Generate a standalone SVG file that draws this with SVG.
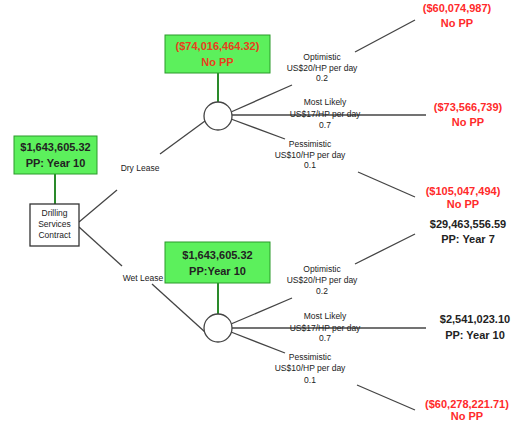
<svg xmlns="http://www.w3.org/2000/svg" width="523" height="423" viewBox="0 0 523 423">
<style>
.gbox{fill:#5cf05c;stroke:#2a9a2a;stroke-width:1}
.gl{stroke:#2a8a2a;stroke-width:2}
.ln{stroke:#444;stroke-width:1.3;fill:none}
.ch{fill:#fff;stroke:#444;stroke-width:1.3}
.bt{font-family:"Liberation Sans",Arial,sans-serif;font-weight:bold;font-size:11px;text-anchor:middle}
.lb{font-family:"Liberation Sans",Arial,sans-serif;font-size:8.5px;text-anchor:middle;fill:#222}
.red{fill:#ff2a2a}
.org{fill:#e8401c}
.blk{fill:#222}
</style>
<rect width="523" height="423" fill="#fff"/>
<g id="connectors">
<line class="gl" x1="55" y1="174" x2="55" y2="204"/>
<line class="gl" x1="218" y1="73" x2="218" y2="102"/>
<line class="gl" x1="218" y1="283" x2="218" y2="314"/>
<polyline class="ln" points="79,222 117,190"/>
<polyline class="ln" points="160,154 205,121"/>
<polyline class="ln" points="79,227 122,266"/>
<polyline class="ln" points="152,284 205,332"/>
<line class="ln" x1="231" y1="112" x2="292" y2="85"/>
<line class="ln" x1="232" y1="115" x2="426" y2="115"/>
<line class="ln" x1="231" y1="119" x2="285" y2="139"/>
<line class="ln" x1="355" y1="52" x2="415" y2="20"/>
<line class="ln" x1="358" y1="172" x2="415" y2="197"/>
<line class="ln" x1="231" y1="324" x2="292" y2="298"/>
<line class="ln" x1="232" y1="328" x2="426" y2="328"/>
<line class="ln" x1="231" y1="332" x2="285" y2="353"/>
<line class="ln" x1="355" y1="264" x2="415" y2="234"/>
<line class="ln" x1="357" y1="385" x2="415" y2="410"/>
<text class="lb" x="140" y="171">Dry Lease</text>
<text class="lb" x="143" y="281">Wet Lease</text>
<text class="lb" x="322" y="60">Optimistic</text>
<text class="lb" x="322" y="71">US$20/HP per day</text>
<text class="lb" x="322" y="81">0.2</text>
<text class="lb" x="325" y="105">Most Likely</text>
<text class="lb" x="325" y="117">US$17/HP per day</text>
<text class="lb" x="325" y="128">0.7</text>
<text class="lb" x="310" y="147">Pessimistic</text>
<text class="lb" x="310" y="158">US$10/HP per day</text>
<text class="lb" x="310" y="168">0.1</text>
<text class="lb" x="322" y="272">Optimistic</text>
<text class="lb" x="322" y="283">US$20/HP per day</text>
<text class="lb" x="322" y="294">0.2</text>
<text class="lb" x="325" y="319">Most Likely</text>
<text class="lb" x="325" y="331">US$17/HP per day</text>
<text class="lb" x="325" y="341">0.7</text>
<text class="lb" x="310" y="360">Pessimistic</text>
<text class="lb" x="310" y="371">US$10/HP per day</text>
<text class="lb" x="310" y="383">0.1</text>
</g>
<g id="root">
<rect x="30" y="204" width="49" height="42" fill="#fff" stroke="#333" stroke-width="1.3"/>
<text class="lb" x="54.5" y="216">Drilling</text>
<text class="lb" x="54.5" y="227">Services</text>
<text class="lb" x="54.5" y="238">Contract</text>
</g>
<g id="root-value">
<rect class="gbox" x="14" y="136" width="83" height="38"/>
<text class="bt blk" x="55.5" y="151">$1,643,605.32</text>
<text class="bt blk" x="55.5" y="167">PP: Year 10</text>
</g>
<g id="dry-chance">
<circle class="ch" cx="218" cy="116" r="14"/>
</g>
<g id="dry-value">
<rect class="gbox" x="165" y="35" width="105" height="38"/>
<text class="bt org" x="217.5" y="50">($74,016,464.32)</text>
<text class="bt org" x="217.5" y="66">No PP</text>
</g>
<g id="wet-chance">
<circle class="ch" cx="218" cy="328" r="14"/>
</g>
<g id="wet-value">
<rect class="gbox" x="165" y="242" width="105" height="41"/>
<text class="bt blk" x="217.5" y="259">$1,643,605.32</text>
<text class="bt blk" x="217.5" y="275">PP:Year 10</text>
</g>
<g id="dry-opt">
<text class="bt red" x="457" y="12">($60,074,987)</text>
<text class="bt red" x="457" y="27">No PP</text>
</g>
<g id="dry-ml">
<text class="bt red" x="468" y="111">($73,566,739)</text>
<text class="bt red" x="468" y="126">No PP</text>
</g>
<g id="dry-pes">
<text class="bt red" x="463" y="195">($105,047,494)</text>
<text class="bt red" x="463" y="208">No PP</text>
</g>
<g id="wet-opt">
<text class="bt blk" x="468" y="228">$29,463,556.59</text>
<text class="bt blk" x="468" y="243">PP: Year 7</text>
</g>
<g id="wet-ml">
<text class="bt blk" x="475" y="323">$2,541,023.10</text>
<text class="bt blk" x="475" y="339">PP: Year 10</text>
</g>
<g id="wet-pes">
<text class="bt red" x="467" y="408">($60,278,221.71)</text>
<text class="bt red" x="467" y="420">No PP</text>
</g>
</svg>
